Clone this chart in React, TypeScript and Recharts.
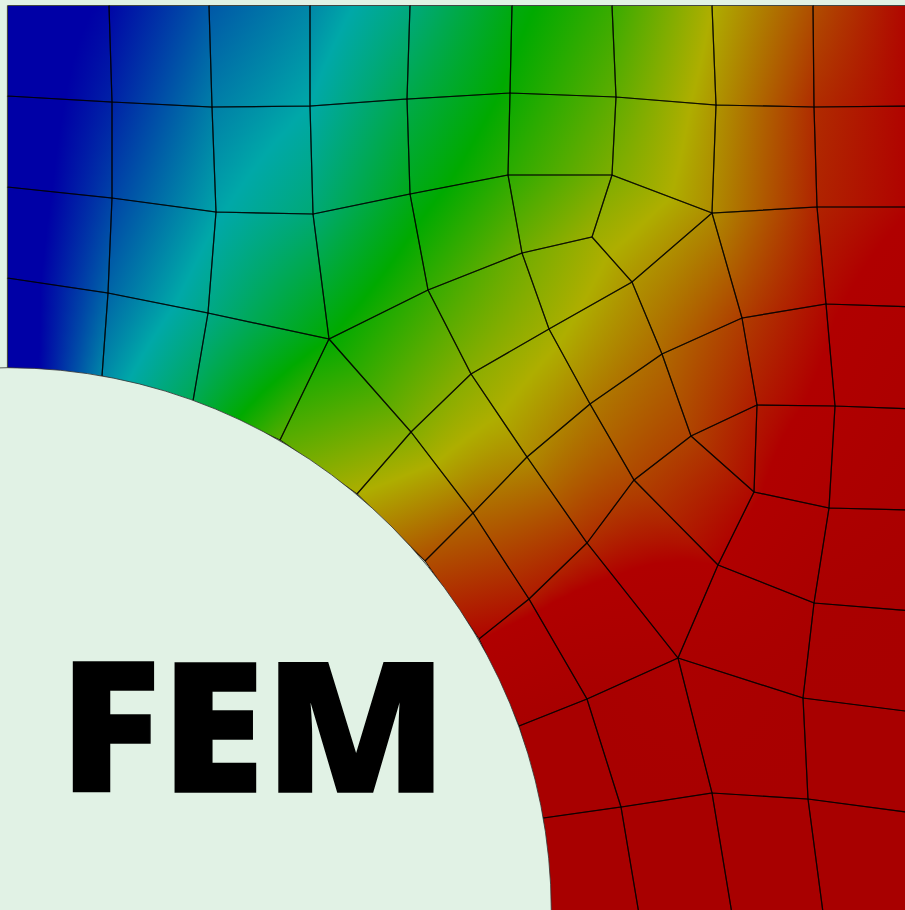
import React from 'react';
import { ScatterChart, Scatter, XAxis, YAxis } from 'recharts';

const W = 905;
const H = 910;
const BG = '#E1F2E5';

// Mesh nodes: horizontal position, vertical position, field value
const nodeX = [
  7.5, 109, 209, 310, 410, 512, 612, 712, 813, 913,
  7.5, 112, 212, 310, 407, 510, 616, 716, 814, 913,
  7.5, 112, 216, 313, 410, 508, 612, 712, 817, 913,
  7.5, 108, 208, 329, 428, 522, 592, 632, 742, 826, 913,
  7.5, 102, 193, 280, 357, 425, 479, 519, 543, 551,
  411, 471, 549, 473, 527, 590, 662,
  529, 587, 634, 691, 757, 835, 913,
  587, 678, 718, 754, 829, 913,
  814, 913, 803, 913,
  621, 712, 808, 913,
  640, 733, 824, 913,
];
const nodeY = [
  5.5, 5.5, 5.5, 5.5, 5.5, 5.5, 5.5, 5.5, 5.5, 5.5,
  96, 102, 107, 106, 99, 93, 97, 105, 107, 106,
  187, 198, 212, 214, 194, 175, 175, 213, 207, 207,
  278, 293, 313, 339, 290, 253, 237, 282, 318, 304, 307,
  368, 376, 401, 440, 494, 561, 639, 726, 818, 920,
  432, 374, 329, 513, 457, 404, 354,
  599, 543, 480, 436, 405, 406, 409,
  699, 658, 565, 492, 508, 510,
  603, 611, 698, 712,
  807, 793, 799, 813,
  920, 920, 920, 920,
];
const nodeValue = [
  -0.2, 0.03, 0.52, 0.8, 1.25, 1.9, 2.32, 3.0, 3.55, 4,
  -0.25, 0.2, 0.75, 1.0, 1.55, 2.05, 2.55, 3.15, 3.75, 4,
  -0.3, 0.4, 0.97, 1.3, 1.85, 2.25, 2.72, 3.2, 3.8, 4,
  -0.3, 0.6, 1.2, 2.0, 2.3, 2.65, 2.9, 3.15, 3.65, 3.95, 4.2,
  -0.4, 0.8, 1.5, 2.5, 3.0, 3.55, 3.98, 5, 5, 5,
  2.75, 2.8, 2.92, 3.4, 3.2, 3.3, 3.4,
  3.85, 3.75, 3.6, 3.62, 3.85, 4.1, 4.5,
  5, 4.6, 4.0, 3.95, 4.4, 4.7,
  4.8, 5, 5, 5,
  5, 5, 5, 5,
  5, 5, 5, 5,
];

// Elements as lists of node indices
const cells: number[][] = [
  [0, 1, 11, 10], [1, 2, 12, 11], [2, 3, 13, 12], [3, 4, 14, 13], [4, 5, 15, 14],
  [5, 6, 16, 15], [6, 7, 17, 16], [7, 8, 18, 17], [8, 9, 19, 18],
  [10, 11, 21, 20], [11, 12, 22, 21], [12, 13, 23, 22], [13, 14, 24, 23], [14, 15, 25, 24],
  [15, 16, 26, 25], [16, 17, 27, 26], [17, 18, 28, 27], [18, 19, 29, 28],
  [20, 21, 31, 30], [21, 22, 32, 31], [22, 23, 33, 32], [23, 24, 34, 33], [24, 25, 35, 34],
  [25, 26, 36, 35], [26, 27, 37, 36], [27, 28, 39, 38], [28, 29, 40, 39],
  [30, 31, 42, 41], [31, 32, 43, 42], [32, 33, 44, 43], [33, 51, 45, 44],
  [33, 34, 52, 51], [34, 35, 53, 52], [35, 36, 37, 53],
  [51, 52, 55, 54], [52, 53, 56, 55], [53, 37, 57, 56], [37, 27, 38, 57],
  [45, 51, 54, 46], [46, 54, 58, 47], [54, 55, 59, 58], [55, 56, 60, 59],
  [56, 57, 61, 60], [57, 38, 62, 61], [38, 39, 63, 62], [39, 40, 64, 63],
  [61, 62, 68], [60, 61, 68, 67], [62, 63, 69, 68], [63, 64, 70, 69],
  [59, 60, 67, 66], [58, 59, 66, 65], [47, 58, 65, 48],
  [48, 65, 75, 49], [65, 66, 76, 75], [66, 67, 71, 73],
  [68, 69, 71, 67], [69, 70, 72, 71], [71, 72, 74, 73],
  [66, 73, 77, 76], [73, 74, 78, 77],
  [49, 75, 79, 50], [75, 76, 80, 79], [76, 77, 81, 80], [77, 78, 82, 81],
];

// Colour scale: field value 0..5
const scaleColors = ['#0000A6', '#00A8A8', '#00AA00', '#AEAE00', '#B00000', '#A80000'];

const holeCenter = [{ x: 7.5, y: 911.5 }];
const holeRadius = 543.8;
const labelAnchor = [{ x: 59, y: 791.5 }];
const labelText = 'FEM';

// Shading subdivisions per element (drawing detail only; the field comes from nodeValue)
const SHADE_STEPS = 4;

const cellData = (cell: number[]) =>
  cell.map((i) => ({ x: nodeX[i], y: nodeY[i], v: nodeValue[i] }));

const noMark = () => null;

function Tri({ id, a, b, c }: any) {
  const det = (b.x - a.x) * (c.y - a.y) - (c.x - a.x) * (b.y - a.y);
  if (Math.abs(det) < 1e-6) return null;
  const gx = ((b.v - a.v) * (c.y - a.y) - (c.v - a.v) * (b.y - a.y)) / det;
  const gy = ((c.v - a.v) * (b.x - a.x) - (b.v - a.v) * (c.x - a.x)) / det;
  const g2 = gx * gx + gy * gy;
  const pts = `${a.x},${a.y} ${b.x},${b.y} ${c.x},${c.y}`;
  if (g2 < 1e-9) {
    const k = Math.max(0, Math.min(5, (a.v + b.v + c.v) / 3));
    return <polygon points={pts} fill={scaleColors[Math.round(k)]} shapeRendering="crispEdges" />;
  }
  const x1 = a.x - (gx * a.v) / g2;
  const y1 = a.y - (gy * a.v) / g2;
  const x2 = a.x + (gx * (5 - a.v)) / g2;
  const y2 = a.y + (gy * (5 - a.v)) / g2;
  return (
    <g>
      <defs>
        <linearGradient id={id} gradientUnits="userSpaceOnUse" x1={x1} y1={y1} x2={x2} y2={y2}>
          {scaleColors.map((col, k) => (
            <stop key={k} offset={k / 5} stopColor={col} />
          ))}
        </linearGradient>
      </defs>
      <polygon points={pts} fill={`url(#${id})`} shapeRendering="crispEdges" />
    </g>
  );
}

const fillCell = (cell: number[], index: number) => (props: any) => {
  const pts = props.points.map((p: any, i: number) => ({ x: p.x, y: p.y, v: nodeValue[cell[i]] }));
  const [p0, p1, p2] = pts;
  const p3 = pts.length > 3 ? pts[3] : pts[2];
  const at = (s: number, t: number) => {
    const mix = (k: 'x' | 'y' | 'v') =>
      (1 - s) * (1 - t) * p0[k] + s * (1 - t) * p1[k] + s * t * p2[k] + (1 - s) * t * p3[k];
    return { x: mix('x'), y: mix('y'), v: mix('v') };
  };
  const tris: React.ReactNode[] = [];
  for (let i = 0; i < SHADE_STEPS; i += 1) {
    for (let j = 0; j < SHADE_STEPS; j += 1) {
      const s0 = i / SHADE_STEPS;
      const s1 = (i + 1) / SHADE_STEPS;
      const t0 = j / SHADE_STEPS;
      const t1 = (j + 1) / SHADE_STEPS;
      const a = at(s0, t0);
      const b = at(s1, t0);
      const c = at(s1, t1);
      const d = at(s0, t1);
      tris.push(<Tri key={`${i}_${j}a`} id={`g${index}_${i}_${j}a`} a={a} b={b} c={c} />);
      tris.push(<Tri key={`${i}_${j}b`} id={`g${index}_${i}_${j}b`} a={a} b={c} c={d} />);
    }
  }
  return <g key={index}>{tris}</g>;
};

export default function App() {
  return (
    <div style={{ position: 'absolute', left: 0, top: 0, width: W, height: H, background: BG, overflow: 'hidden' }}>
      <ScatterChart width={W} height={H} margin={{ top: 0, right: 0, bottom: 0, left: 0 }}>
        <XAxis type="number" dataKey="x" domain={[0, W]} allowDataOverflow hide />
        <YAxis type="number" dataKey="y" domain={[0, H]} allowDataOverflow reversed hide />
        {cells.map((cell, i) => (
          <Scatter
            key={`f${i}`}
            data={cellData(cell)}
            shape={noMark}
            line={fillCell(cell, i)}
            isAnimationActive={false}
          />
        ))}
        {cells.map((cell, i) => (
          <Scatter
            key={`o${i}`}
            data={cellData([...cell, cell[0]])}
            shape={noMark}
            line={{ stroke: '#000000', strokeWidth: 1.2, strokeOpacity: 0.7, fill: 'none' }}
            isAnimationActive={false}
          />
        ))}
        <Scatter
          data={holeCenter}
          isAnimationActive={false}
          shape={(p: any) => (
            <circle cx={p.cx} cy={p.cy} r={holeRadius} fill={BG} stroke="#333333" strokeWidth={0.8} />
          )}
        />
        <Scatter
          data={labelAnchor}
          isAnimationActive={false}
          shape={(p: any) => (
            <text
              transform={`translate(${p.cx},${p.cy}) scale(1.044,1)`}
              fontFamily="'Open Sans', sans-serif"
              fontWeight={800}
              fontSize={181}
              fill="#000000"
              stroke="#000000"
              strokeWidth={1.5}
            >
              {labelText}
            </text>
          )}
        />
      </ScatterChart>
    </div>
  );
}
